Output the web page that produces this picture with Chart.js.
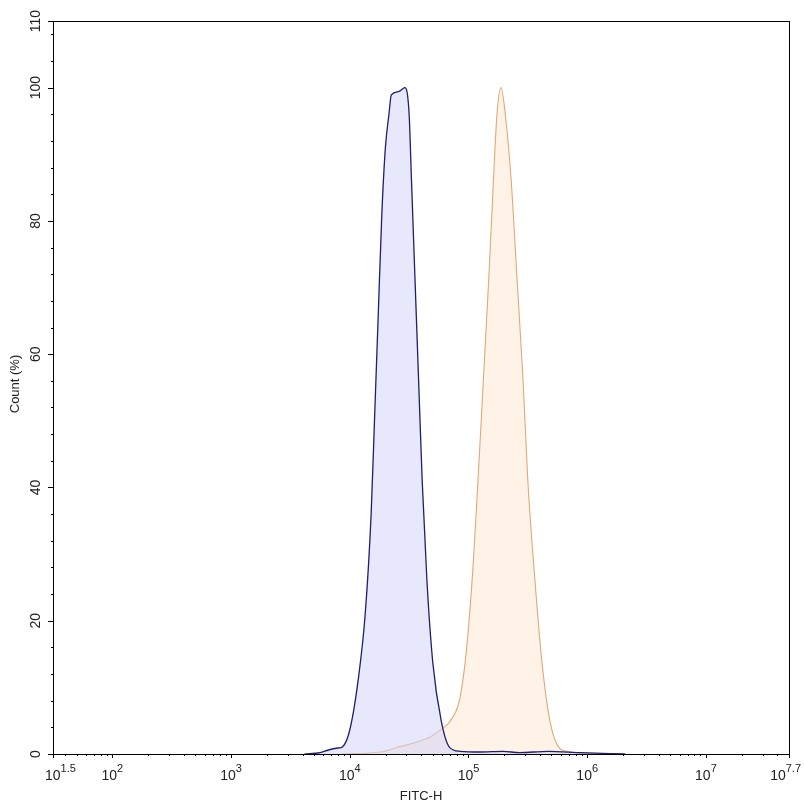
<!DOCTYPE html>
<html>
<head>
<meta charset="utf-8">
<script src="https://cdn.jsdelivr.net/npm/chart.js@4"></script>
<style>
  html, body { margin: 0; padding: 0; background: #fff; }
  #wrap { width: 804px; height: 807px; }
</style>
</head>
<body>
<div id="wrap"><canvas id="myChart" width="804" height="807"></canvas></div>
<script>
// x values are log10(FITC-H), y values are Count (%)
const blueX = [3.62, 3.75, 3.82, 3.90, 3.94, 4.00, 4.07, 4.13, 4.18, 4.21, 4.24, 4.27, 4.30, 4.33, 4.35, 4.41, 4.465, 4.50, 4.52, 4.55, 4.58, 4.61, 4.65, 4.70, 4.77, 4.84, 4.93, 5.10, 5.29, 5.43, 5.67, 5.94, 6.32];
const blueY = [0, 0.2, 0.6, 0.9, 1.1, 3.6, 11, 21, 36, 51, 66, 81, 91, 96, 98.9, 99.4, 100, 96, 86, 71, 56, 41, 26, 13.6, 5, 1, 0.4, 0.3, 0.4, 0.2, 0.4, 0.2, 0];

const orangeX = [3.92, 4.26, 4.40, 4.53, 4.68, 4.79, 4.84, 4.93, 4.985, 5.04, 5.08, 5.125, 5.17, 5.21, 5.24, 5.274, 5.31, 5.36, 5.41, 5.46, 5.50, 5.56, 5.62, 5.69, 5.77, 5.83, 5.94, 6.11];
const orangeY = [0, 0.3, 1, 1.6, 2.6, 4, 4.8, 8.6, 16, 28.6, 41, 56, 71, 86, 96, 100, 96, 86, 71, 56, 41, 26, 13.6, 4.6, 0.8, 0.4, 0.1, 0];

const xTickExp = [1.5, 2, 3, 4, 5, 6, 7, 7.7];
const yTicks = [0, 20, 40, 60, 80, 100, 110];
const yMinor = [4, 8, 12, 16, 24, 28, 32, 36, 44, 48, 52, 56, 64, 68, 72, 76, 84, 88, 92, 96, 104, 108];

const xMin = 1.5, xMax = 7.7, yMin = 0, yMax = 110;
const FONT = 'Arial, "Liberation Sans", sans-serif';

function pts(xs, ys) {
  return xs.map((x, i) => ({ x: x, y: ys[i] }));
}

// minor log ticks 2..9 in each decade
let xMinor = [];
for (let d = 1; d <= 7; d++) {
  for (let k = 2; k <= 9; k++) {
    let e = Math.log10(k * Math.pow(10, d));
    if (e > xMin && e < xMax) xMinor.push(e);
  }
}

const axesPlugin = {
  id: 'axesPlugin',
  afterDraw(chart) {
    const ctx = chart.ctx;
    const a = chart.chartArea;
    const xs = chart.scales.x, ys = chart.scales.y;
    ctx.save();
    ctx.strokeStyle = '#000';
    ctx.lineWidth = 1;
    ctx.strokeRect(Math.round(a.left) + 0.5, Math.round(a.top) + 0.5, Math.round(a.right - a.left), Math.round(a.bottom - a.top));

    ctx.beginPath();
    xTickExp.forEach(v => {
      let px = Math.round(xs.getPixelForValue(v)) + 0.5;
      ctx.moveTo(px, a.bottom); ctx.lineTo(px, a.bottom + 4);
    });
    xMinor.forEach(v => {
      let px = Math.round(xs.getPixelForValue(v)) + 0.5;
      ctx.moveTo(px, a.bottom); ctx.lineTo(px, a.bottom + 2);
    });
    yTicks.forEach(v => {
      let py = Math.round(ys.getPixelForValue(v)) + 0.5;
      ctx.moveTo(a.left, py); ctx.lineTo(a.left - 5, py);
    });
    yMinor.forEach(v => {
      let py = Math.round(ys.getPixelForValue(v)) + 0.5;
      ctx.moveTo(a.left, py); ctx.lineTo(a.left - 2, py);
    });
    ctx.stroke();

    ctx.fillStyle = '#222';
    // x tick labels with superscript exponent
    xTickExp.forEach(v => {
      let px = xs.getPixelForValue(v);
      ctx.font = '14px ' + FONT;
      let w1 = ctx.measureText('10').width;
      ctx.font = '11px ' + FONT;
      let exp = String(v);
      let w2 = ctx.measureText(exp).width;
      let left = px - (w1 + w2) / 2;
      if (left < 45) left = 45;
      if (left + w1 + w2 > 801) left = 801 - w1 - w2;
      ctx.textAlign = 'left';
      ctx.textBaseline = 'alphabetic';
      ctx.font = '14px ' + FONT;
      ctx.fillText('10', left, 780);
      ctx.font = '11px ' + FONT;
      ctx.fillText(exp, left + w1, 772);
    });

    // y tick labels, rotated
    ctx.font = '14px ' + FONT;
    ctx.textAlign = 'center';
    ctx.textBaseline = 'middle';
    yTicks.forEach(v => {
      let py = ys.getPixelForValue(v);
      ctx.save();
      ctx.translate(36, py);
      ctx.rotate(-Math.PI / 2);
      ctx.fillText(String(v), 0, 0);
      ctx.restore();
    });

    // axis titles
    ctx.font = '13px ' + FONT;
    ctx.fillText('FITC-H', (a.left + a.right) / 2, 796);
    ctx.save();
    ctx.translate(15, 384);
    ctx.rotate(-Math.PI / 2);
    ctx.fillText('Count (%)', 0, 0);
    ctx.restore();
    ctx.restore();
  }
};

const ctx = document.getElementById('myChart');
new Chart(ctx, {
  type: 'line',
  data: {
    datasets: [{
      label: 'Control',
      data: pts(blueX, blueY),
      borderColor: '#1f1f6b',
      backgroundColor: 'rgba(214, 214, 250, 0.55)',
      borderWidth: 1.3,
      fill: 'origin',
      pointRadius: 0,
      cubicInterpolationMode: 'monotone'
    }, {
      label: 'Sample',
      data: pts(orangeX, orangeY),
      borderColor: '#dfaa78',
      backgroundColor: 'rgba(253, 232, 205, 0.5)',
      borderWidth: 1.1,
      fill: 'origin',
      pointRadius: 0,
      cubicInterpolationMode: 'monotone'
    }]
  },
  options: {
    responsive: false,
    animation: false,
    layout: { padding: { left: 53, top: 21, right: 15, bottom: 53 } },
    plugins: { legend: { display: false }, tooltip: { enabled: false } },
    scales: {
      x: { type: 'linear', min: xMin, max: xMax, display: false },
      y: { type: 'linear', min: yMin, max: yMax, display: false }
    }
  },
  plugins: [axesPlugin]
});
</script>
</body>
</html>
